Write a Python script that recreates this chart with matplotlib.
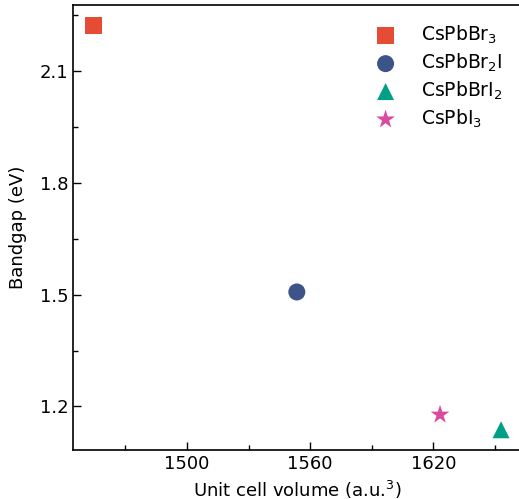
import matplotlib
matplotlib.use("Agg")
import matplotlib.pyplot as plt
from matplotlib.ticker import MultipleLocator

# data
compounds = ["CsPbBr$_3$", "CsPbBr$_2$I", "CsPbBrI$_2$", "CsPbI$_3$"]
volume = [1454.5, 1553.5, 1652.9, 1623.2]
bandgap = [2.2225, 1.507, 1.1375, 1.178]
markers = ["s", "o", "^", "*"]
colors = ["#E64B35", "#3C5488", "#00A087", "#DA4BA0"]
sizes = [150, 150, 150, 200]

plt.rcParams["font.family"] = "DejaVu Sans"
plt.rcParams["font.size"] = 13

fig = plt.figure(figsize=(5.19, 4.99), dpi=100)
ax = fig.add_axes([0.1407, 0.0982, 0.864, 0.892])

for name, x, y, m, c, s in zip(compounds, volume, bandgap, markers, colors, sizes):
    ax.scatter(x, y, marker=m, color=c, s=s, label=name, edgecolors="none")

ax.set_xlabel("Unit cell volume (a.u.$^3$)", fontsize=13, labelpad=4)
ax.set_ylabel("Bandgap (eV)", fontsize=13, labelpad=9)

ax.xaxis.set_major_locator(MultipleLocator(60))
ax.xaxis.set_minor_locator(MultipleLocator(30))
ax.yaxis.set_major_locator(MultipleLocator(0.3))
ax.yaxis.set_minor_locator(MultipleLocator(0.15))
ax.tick_params(which="both", direction="in", labelsize=13)
ax.tick_params(which="major", length=6, width=1)
ax.tick_params(which="minor", length=3.5, width=1)
for sp in ax.spines.values():
    sp.set_linewidth(1.2)

ax.legend(loc="upper right", frameon=False, prop={"size": 13.5}, handletextpad=0.9,
          labelspacing=0.3, borderaxespad=0.6)

fig.savefig("out.png", dpi=100)
